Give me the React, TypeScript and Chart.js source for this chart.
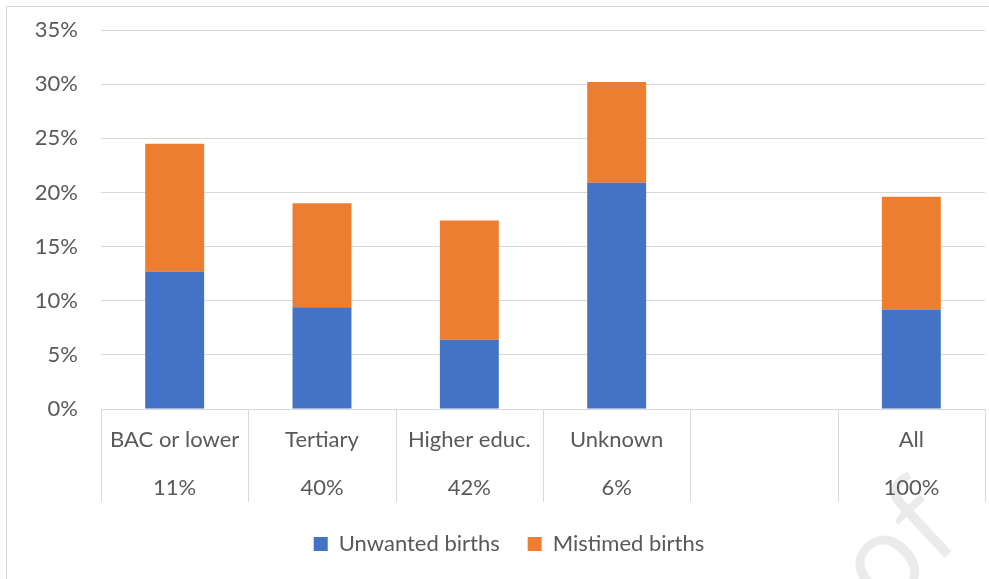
import React, { useEffect, useRef } from "react";
import { Chart, registerables } from "chart.js";

Chart.register(...registerables);

const categories: string[][] = [
  ["BAC or lower", "11%"],
  ["Tertiary", "40%"],
  ["Higher educ.", "42%"],
  ["Unknown", "6%"],
  ["", ""],
  ["All", "100%"],
];
const unwanted: (number | null)[] = [12.7, 9.4, 6.4, 20.9, null, 9.2];
const mistimed: (number | null)[] = [11.8, 9.6, 11.0, 9.3, null, 10.4];
const yTicksMax = 35;
const yTicksStep = 5;

const FONT = "Lato, 'Open Sans', sans-serif";
const TEXT = "#595959";
const GRID = "#d9d9d9";

const separators = {
  id: "separators",
  afterDraw(chart: any) {
    const { ctx, chartArea, scales } = chart;
    const xs = scales.x;
    const n = categories.length;
    const w = (xs.right - xs.left) / n;
    ctx.save();
    ctx.strokeStyle = GRID;
    ctx.lineWidth = 1;
    for (let i = 0; i <= n; i++) {
      const x = Math.round(xs.left + i * w) + 0.5;
      ctx.beginPath();
      ctx.moveTo(x, chartArea.bottom);
      ctx.lineTo(x, chartArea.bottom + 93);
      ctx.stroke();
    }
    ctx.restore();
  },
};

const legendShift = {
  id: "legendShift",
  afterLayout(chart: any) {
    const lg = chart.legend;
    if (lg) {
      lg.left += 13;
      lg.right += 13;
    }
  },
};

const watermark = {
  id: "watermark",
  beforeDraw(chart: any) {
    const { ctx } = chart;
    ctx.save();
    ctx.translate(876, 608);
    ctx.rotate(-0.75);
    ctx.fillStyle = "#ebebeb";
    ctx.font = `118px 'Open Sans', sans-serif`;
    ctx.textBaseline = "alphabetic";
    ctx.fillText("of", 0, 0);
    ctx.restore();
  },
};

export default function App() {
  const ref = useRef<HTMLCanvasElement | null>(null);

  useEffect(() => {
    if (!ref.current) return;
    const chart = new Chart(ref.current, {
      type: "bar",
      data: {
        labels: categories,
        datasets: [
          {
            label: "Unwanted births",
            data: unwanted,
            backgroundColor: "#4472C4",
            barPercentage: 0.4,
            categoryPercentage: 1,
          },
          {
            label: "Mistimed births",
            data: mistimed,
            backgroundColor: "#ED7D31",
            barPercentage: 0.4,
            categoryPercentage: 1,
          },
        ],
      },
      options: {
        responsive: false,
        animation: false,
        layout: { padding: { top: 23, right: 4, bottom: 14, left: 0 } },
        plugins: {
          tooltip: { enabled: false },
          legend: {
            position: "bottom",
            labels: {
              color: TEXT,
              font: { family: FONT, size: 22 },
              boxWidth: 14,
              boxHeight: 14,
              padding: 28,
            },
          },
        },
        scales: {
          x: {
            stacked: true,
            grid: { display: false, drawTicks: false },
            border: { color: GRID },
            ticks: {
              color: TEXT,
              font: { family: FONT, size: 22, lineHeight: 2.18 },
              padding: 7,
              maxRotation: 0,
              autoSkip: false,
            },
            afterFit(scale: any) {
              scale.height = 96;
            },
          },
          y: {
            stacked: true,
            min: 0,
            max: yTicksMax,
            grid: { color: GRID, drawTicks: false },
            border: { display: false },
            ticks: {
              stepSize: yTicksStep,
              color: TEXT,
              font: { family: FONT, size: 22 },
              padding: 23,
              callback: (v: any) => `${v}%`,
            },
            afterFit(scale: any) {
              scale.width = 94;
              scale.paddingTop = 0;
            },
          },
        },
      },
      plugins: [separators, legendShift, watermark],
    });
    return () => chart.destroy();
  }, []);

  return (
    <div
      style={{
        position: "absolute",
        left: 6,
        top: 6,
        width: 983,
        height: 573,
        borderTop: `1px solid ${GRID}`,
        borderLeft: `1px solid ${GRID}`,
        background: "#fff",
        overflow: "hidden",
      }}
    >
      <canvas ref={ref} width={982} height={572} style={{ display: "block" }} />
    </div>
  );
}
